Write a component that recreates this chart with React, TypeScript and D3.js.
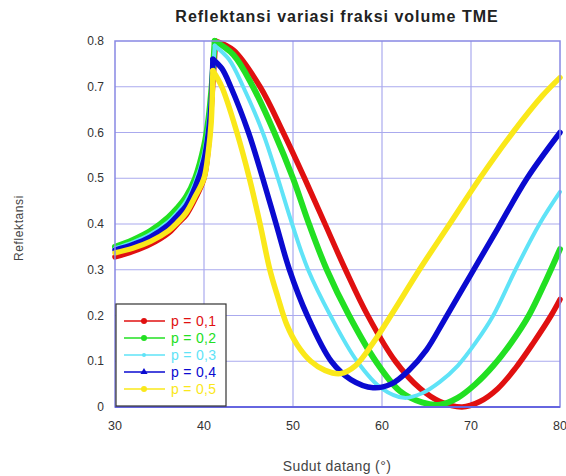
import React, { useEffect, useRef } from 'react';
import * as d3 from 'd3';

// angles (degrees) and reflectance, one pair per series
const angP1 = [30, 32, 34, 36, 37, 38, 39, 40, 40.5, 40.9, 41.3, 43.3, 46.3, 48.9, 51.3, 53.6, 55.9, 58.4, 61.5, 64.3, 66.5, 69, 71, 73, 75, 77, 79, 80];
const refP1 = [0.328, 0.34, 0.356, 0.38, 0.4, 0.42, 0.455, 0.5, 0.57, 0.68, 0.8, 0.78, 0.7, 0.6, 0.5, 0.4, 0.3, 0.2, 0.1, 0.04, 0.012, 0.0, 0.012, 0.04, 0.085, 0.14, 0.2, 0.235];

const angP2 = [30, 32, 34, 36, 37, 38, 39, 40, 40.5, 40.9, 41.2, 43.3, 45.5, 47.9, 50, 51.8, 53.8, 56.3, 59.3, 62, 64.5, 66.5, 68.5, 70.5, 72.5, 74.5, 76.5, 78.5, 80];
const refP2 = [0.35, 0.365, 0.385, 0.415, 0.435, 0.46, 0.5, 0.57, 0.63, 0.71, 0.8, 0.77, 0.7, 0.6, 0.5, 0.4, 0.3, 0.2, 0.1, 0.035, 0.01, 0.005, 0.02, 0.05, 0.09, 0.14, 0.2, 0.28, 0.345];

const angP3 = [30, 32, 34, 36, 37, 38, 39, 40, 40.5, 40.9, 41.2, 42.8, 44.4, 46.6, 48.3, 49.9, 51.7, 54.2, 57.2, 60, 62.5, 64.5, 66.5, 68.5, 70.5, 72.5, 75, 77.7, 80];
const refP3 = [0.347, 0.36, 0.378, 0.405, 0.425, 0.45, 0.49, 0.555, 0.62, 0.7, 0.79, 0.76, 0.7, 0.6, 0.5, 0.4, 0.3, 0.2, 0.1, 0.04, 0.02, 0.03, 0.055, 0.09, 0.14, 0.2, 0.3, 0.4, 0.47];

const angP4 = [30, 32, 34, 36, 37, 38, 39, 40, 40.5, 40.8, 41, 42, 43, 45, 46.6, 48.1, 49.6, 51.6, 54.3, 56.5, 59, 61, 63, 65, 67, 70, 73, 76.3, 80];
const refP4 = [0.343, 0.355, 0.372, 0.398, 0.418, 0.44, 0.48, 0.54, 0.6, 0.66, 0.76, 0.74, 0.7, 0.6, 0.5, 0.4, 0.3, 0.2, 0.1, 0.06, 0.042, 0.05, 0.08, 0.125, 0.19, 0.29, 0.39, 0.5, 0.6];

const angP5 = [30, 32, 34, 36, 37, 38, 39, 40, 40.5, 40.8, 41, 42, 43.7, 45.1, 46.3, 47.4, 48.3, 49.3, 50.5, 52, 53.6, 55.3, 57, 59, 61, 64.2, 67.6, 71, 74.7, 78, 80];
const refP5 = [0.337, 0.347, 0.362, 0.385, 0.403, 0.425, 0.46, 0.5, 0.56, 0.62, 0.735, 0.7, 0.6, 0.5, 0.4, 0.3, 0.24, 0.18, 0.135, 0.1, 0.08, 0.073, 0.09, 0.14, 0.2, 0.3, 0.4, 0.5, 0.6, 0.68, 0.72];

const seriesNames = ['p = 0,1', 'p = 0,2', 'p = 0,3', 'p = 0,4', 'p = 0,5'];
const seriesColors = ['#e01010', '#22e022', '#5fe3f7', '#0a0ad0', '#fae81a'];
const xTicks = [30, 40, 50, 60, 70, 80];
const yTicks = [0, 0.1, 0.2, 0.3, 0.4, 0.5, 0.6, 0.7, 0.8];

const series = [
  [angP1, refP1],
  [angP2, refP2],
  [angP3, refP3],
  [angP4, refP4],
  [angP5, refP5],
];
const lineWidths = [5.5, 6, 4, 5.5, 5.5];

export default function App() {
  const svgRef = useRef<SVGSVGElement>(null);

  useEffect(() => {
    const svg = d3.select(svgRef.current);
    svg.selectAll('*').remove();

    const left = 115, right = 560, top = 41, bottom = 407;
    const x = d3.scaleLinear().domain([30, 80]).range([left, right]);
    const y = d3.scaleLinear().domain([0, 0.8]).range([bottom, top]);
    const font = 'Liberation Sans, Arial, sans-serif';
    const grid = '#aaaaee';

    svg.append('rect')
      .attr('width', 566).attr('height', 476).attr('fill', '#fff');

    // grid
    svg.append('g').selectAll('line')
      .data(xTicks.slice(1, -1))
      .join('line')
      .attr('x1', d => x(d)).attr('x2', d => x(d))
      .attr('y1', top).attr('y2', bottom)
      .attr('stroke', grid).attr('stroke-width', 1.2);

    svg.append('g').selectAll('line')
      .data(yTicks.slice(1, -1))
      .join('line')
      .attr('x1', left).attr('x2', right)
      .attr('y1', d => y(d)).attr('y2', d => y(d))
      .attr('stroke', grid).attr('stroke-width', 1.2);

    // curves: rising branch and falling branch drawn apart so the peak stays sharp
    const line = d3.line<[number, number]>()
      .x(d => x(d[0]))
      .y(d => y(d[1]))
      .curve(d3.curveCatmullRom.alpha(0.5));

    const plot = svg.append('g');
    series.forEach(([ang, ref], i) => {
      const pts: [number, number][] = ang.map((a, j) => [a, ref[j]]);
      const k = d3.maxIndex(pts, d => (d[0] < 45 ? d[1] : -1));
      [pts.slice(0, k + 1), pts.slice(k)].forEach(part => {
        plot.append('path')
          .datum(part)
          .attr('fill', 'none')
          .attr('stroke', seriesColors[i])
          .attr('stroke-width', lineWidths[i])
          .attr('stroke-linejoin', 'round')
          .attr('stroke-linecap', 'round')
          .attr('d', line);
      });
    });

    // frame
    svg.append('rect')
      .attr('x', left).attr('y', top)
      .attr('width', right - left).attr('height', bottom - top)
      .attr('fill', 'none')
      .attr('stroke', '#8888e4').attr('stroke-width', 1.5);
    svg.append('line')
      .attr('x1', left).attr('x2', right).attr('y1', bottom).attr('y2', bottom)
      .attr('stroke', '#6666e0').attr('stroke-width', 2);

    // tick labels
    svg.append('g').selectAll('text')
      .data(yTicks)
      .join('text')
      .attr('x', left - 11).attr('y', d => y(d) + 4)
      .attr('text-anchor', 'end')
      .attr('font-family', font).attr('font-size', 12).attr('fill', '#333')
      .text(d => (d === 0 ? '0' : d.toFixed(1)));

    svg.append('g').selectAll('text')
      .data(xTicks)
      .join('text')
      .attr('x', d => x(d)).attr('y', bottom + 23)
      .attr('text-anchor', 'middle')
      .attr('font-family', font).attr('font-size', 12.5).attr('fill', '#333')
      .text(d => d);

    // titles
    svg.append('text')
      .attr('x', 337).attr('y', 22)
      .attr('text-anchor', 'middle')
      .attr('font-family', font).attr('font-size', 16).attr('font-weight', 'bold')
      .attr('letter-spacing', 1)
      .attr('fill', '#222')
      .text('Reflektansi variasi fraksi volume TME');

    svg.append('text')
      .attr('x', 337).attr('y', 471)
      .attr('text-anchor', 'middle')
      .attr('font-family', font).attr('font-size', 14).attr('letter-spacing', 0.4)
      .attr('fill', '#444')
      .text('Sudut datang (°)');

    svg.append('text')
      .attr('transform', 'translate(23,228) rotate(-90)')
      .attr('text-anchor', 'middle')
      .attr('font-family', font).attr('font-size', 12).attr('letter-spacing', 0.6)
      .attr('fill', '#444')
      .text('Reflektansi');

    // legend
    const lg = svg.append('g');
    lg.append('rect')
      .attr('x', 116).attr('y', 304).attr('width', 110).attr('height', 102)
      .attr('fill', '#fff').attr('stroke', '#333').attr('stroke-width', 1.2);
    seriesNames.forEach((name, i) => {
      const ly = 321 + i * 17;
      lg.append('line')
        .attr('x1', 124).attr('x2', 165).attr('y1', ly).attr('y2', ly)
        .attr('stroke', seriesColors[i]).attr('stroke-width', 1.5);
      if (i === 3) {
        lg.append('path')
          .attr('d', d3.symbol(d3.symbolTriangle, 22)())
          .attr('transform', `translate(144,${ly})`)
          .attr('fill', seriesColors[i]);
      } else {
        lg.append('circle')
          .attr('cx', 144).attr('cy', ly).attr('r', i === 2 ? 2 : 3)
          .attr('fill', seriesColors[i]);
      }
      lg.append('text')
        .attr('x', 171).attr('y', ly + 5)
        .attr('font-family', font).attr('font-size', 14).attr('letter-spacing', 0.3)
        .attr('fill', seriesColors[i])
        .text(name);
    });
  }, []);

  return (
    <svg
      ref={svgRef}
      width={566}
      height={476}
      style={{ position: 'absolute', left: 0, top: 0 }}
    />
  );
}
